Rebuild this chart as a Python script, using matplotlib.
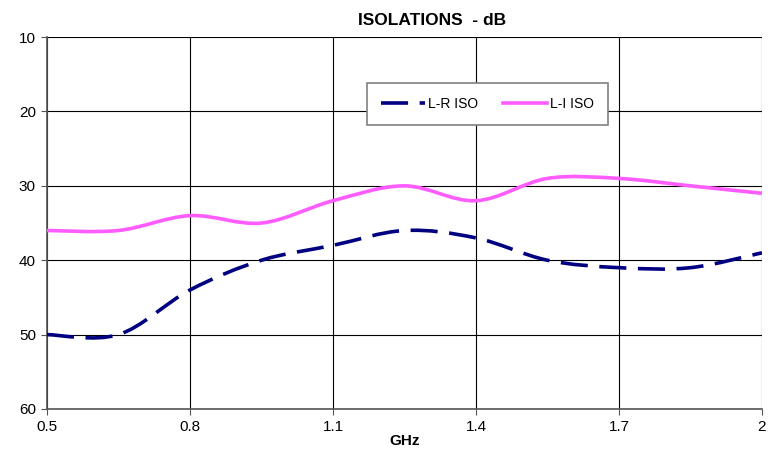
import numpy as np
import matplotlib
matplotlib.use('Agg')
import matplotlib.pyplot as plt
from matplotlib.path import Path
from matplotlib.patches import PathPatch
from matplotlib.lines import Line2D

plt.rcParams['font.family'] = ['Liberation Sans', 'DejaVu Sans']

freq_ghz = [0.5, 0.65, 0.8, 0.95, 1.1, 1.25, 1.4, 1.55, 1.7, 1.85, 2.0]
lr_iso = [50, 50, 44, 40, 38, 36, 37, 40, 41, 41, 39]
li_iso = [36, 36, 34, 35, 32, 30, 32, 29, 29, 30, 31]


def smooth_path(x, y):
    # Excel style smoothed line: cubic bezier through every point
    x = np.asarray(x, float)
    y = np.asarray(y, float)
    px = np.concatenate([[x[0]], x, [x[-1]]])
    py = np.concatenate([[y[0]], y, [y[-1]]])
    verts = [(x[0], y[0])]
    codes = [Path.MOVETO]
    for i in range(1, len(x)):
        c1 = (px[i] + (px[i + 1] - px[i - 1]) / 6, py[i] + (py[i + 1] - py[i - 1]) / 6)
        c2 = (px[i + 1] - (px[i + 2] - px[i]) / 6, py[i + 1] - (py[i + 2] - py[i]) / 6)
        verts += [c1, c2, (x[i], y[i])]
        codes += [Path.CURVE4] * 3
    return Path(verts, codes)


fig = plt.figure(figsize=(7.78, 4.58), dpi=100)
ax = fig.add_axes([0.0604, 0.107, 0.919, 0.812])

lr_color = '#000080'
li_color = '#FF5CFF'
dash = (0, (7.5, 3.2))

ax.add_patch(PathPatch(smooth_path(freq_ghz, lr_iso), fill=False, edgecolor=lr_color,
                       lw=2.6, linestyle=dash, capstyle='butt', zorder=3))
ax.add_patch(PathPatch(smooth_path(freq_ghz, li_iso), fill=False, edgecolor=li_color,
                       lw=2.6, zorder=3))

ax.set_xlim(0.5, 2.0)
ax.set_ylim(60, 10)
ax.set_xticks([0.5, 0.8, 1.1, 1.4, 1.7, 2.0])
ax.set_xticklabels(['0.5', '0.8', '1.1', '1.4', '1.7', '2'])
ax.set_yticks([10, 20, 30, 40, 50, 60])
ax.grid(True, color='black', lw=0.8)
ax.tick_params(labelsize=11, length=4, color='#555555', pad=4)
for side in ['top', 'right']:
    ax.spines[side].set_visible(False)
for side in ['left', 'bottom']:
    ax.spines[side].set_color('#555555')
    ax.spines[side].set_linewidth(1.2)

handles = [Line2D([], [], color=lr_color, lw=2.6, linestyle=dash),
           Line2D([], [], color=li_color, lw=2.6)]
leg = ax.legend(handles, ['L-R ISO', 'L-I ISO'], ncol=2, loc='center',
                bbox_to_anchor=(0.616, 0.82), fancybox=False, framealpha=1,
                edgecolor='#808080', fontsize=10, handlelength=3.2,
                columnspacing=1.8, borderpad=1.0, handletextpad=0.2)
leg.get_frame().set_linewidth(1.2)

fig.text(0.555, 0.955, 'ISOLATIONS  - dB', ha='center', va='center',
         fontsize=12.5, fontweight='bold')
ax.set_xlabel('GHz', fontsize=11, fontweight='bold', labelpad=0)

plt.savefig('out.png', dpi=100)
